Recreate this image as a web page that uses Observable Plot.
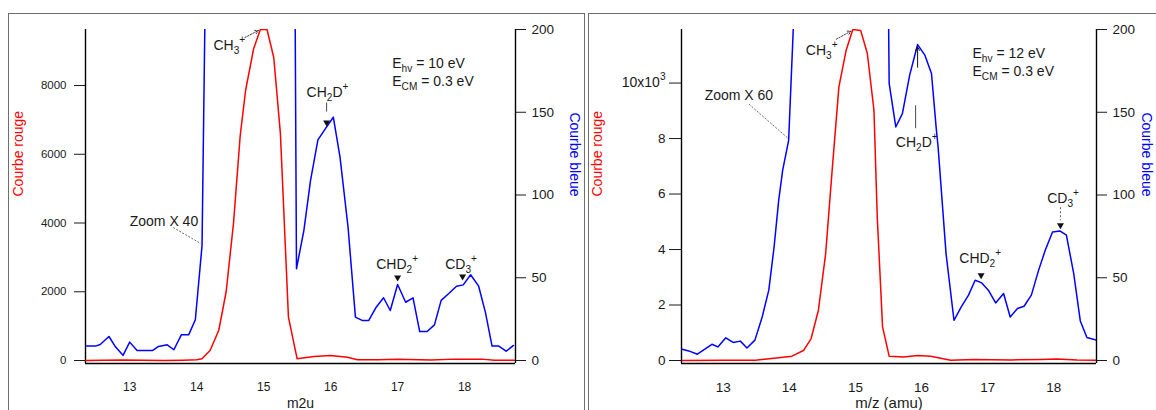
<!DOCTYPE html>
<html>
<head>
<meta charset="utf-8">
<script src="https://cdn.jsdelivr.net/npm/d3@7"></script>
<script src="https://cdn.jsdelivr.net/npm/@observablehq/plot@0.6"></script>
<style>
  body { margin: 0; background: #fff; }
  #wrap { position: relative; width: 1156px; height: 410px; overflow: hidden; background: #fff;
          font-family: "Liberation Sans", Arial, sans-serif; }
  .box { position: absolute; top: 13px; height: 420px; border: 1.6px solid #6e6e6e; box-sizing: border-box; }
  .panel { position: absolute; top: 0; }
</style>
</head>
<body>
<div id="wrap">
  <div class="box" style="left:8px;width:577px;"></div>
  <div class="box" style="left:588px;width:580px;"></div>
  <div class="panel" id="p1" style="left:0px;"></div>
  <div class="panel" id="p2" style="left:584px;"></div>
</div>
<script>
// ---------- shared tick values ----------
const xTicks = [13, 14, 15, 16, 17, 18];
const blueTicks = [0, 50, 100, 150, 200];

// ---------- left panel (Ehv = 10 eV, zoom x40) ----------
const xDomainA = [12.34, 18.76];
const redMaxA = 9630;
const blueMaxA = 200;
const redTicksA = [0, 2000, 4000, 6000, 8000];
const redMassA = [12.34, 12.6, 12.9, 13.2, 13.5, 13.8, 14.0, 14.08, 14.2, 14.33, 14.44, 14.55, 14.65, 14.73, 14.85, 14.95, 15.05, 15.15, 15.19, 15.25, 15.37, 15.5, 15.75, 16.0, 16.25, 16.4, 16.7, 17.0, 17.5, 17.85, 18.25, 18.45, 18.76];
const redA = [0, 10, 15, 5, 0, 10, 20, 50, 290, 880, 2000, 4000, 6545, 7855, 9068, 9630, 9630, 8823, 7950, 6600, 1260, 50, 116, 145, 96, 20, 25, 35, 15, 40, 40, 10, 5];
const blueMassA = [12.355, 12.49, 12.56, 12.69, 12.79, 12.90, 13.00, 13.11, 13.34, 13.43, 13.56, 13.66, 13.77, 13.88, 13.98, 14.08, 14.14, 14.16, 15.45, 15.47, 15.49, 15.60, 15.70, 15.81, 15.92, 16.04, 16.14, 16.26, 16.37, 16.47, 16.57, 16.68, 16.79, 16.89, 17.00, 17.12, 17.23, 17.33, 17.44, 17.55, 17.65, 17.76, 17.88, 17.98, 18.09, 18.21, 18.31, 18.41, 18.51, 18.62, 18.73];
const blueA = [8.7, 8.7, 9.7, 14.5, 8.1, 3.1, 11.1, 6.0, 6.0, 8.5, 9.5, 6.5, 15.5, 15.5, 24.6, 69.5, 260, 2500, 2500, 210, 55.4, 78.5, 108.8, 133.3, 140, 147, 122.9, 80.5, 26.2, 24.2, 24.2, 32.2, 37.9, 30.2, 45.9, 35.2, 37.9, 17.5, 17.5, 21.5, 36.3, 40.3, 44.9, 45.7, 51.8, 44.9, 29.2, 8.7, 8.7, 5.6, 9.1];

// annotation labels (x in amu, y in red-axis units)
const labelsA = ["CH_{3}^{+}", "Zoom X 40", "CH_{2}D^{+}", "E_{hv} = 10 eV", "E_{CM} = 0.3 eV", "CHD_{2}^{+}", "CD_{3}^{+}"];
const labelXA = [14.25, 13.0, 15.64, 16.92, 16.92, 16.68, 17.71];
const labelYA = [9164, 4044, 7796, 8640, 8116, 2793, 2793];
const arrowA = { x1: 14.72, y1: 9396, x2: 14.92, y2: 9600 };
const leaderA = { x1: 13.65, y1: 3869, x2: 14.06, y2: 3404 };
const tickLineA = { x1: 15.94, y1: 7505, x2: 15.94, y2: 7243 };
const markerXA = [15.94, 17.0, 17.97];
const markerYA = [6923, 2414, 2443];

// ---------- right panel (Ehv = 12 eV, zoom x60) ----------
const xDomainB = [12.37, 18.645];
const redMaxB = 11930;
const blueMaxB = 200;
const redTicksB = [0, 2000, 4000, 6000, 8000, 10000];
const redLabelsB = ["0", "2", "4", "6", "8", "10x10^{3}"];
const redMassB = [12.38, 13.0, 13.49, 13.84, 14.04, 14.22, 14.33, 14.44, 14.55, 14.64, 14.75, 14.86, 14.96, 15.08, 15.18, 15.28, 15.33, 15.41, 15.51, 15.73, 15.94, 16.14, 16.44, 16.79, 17.35, 17.8, 18.05, 18.35, 18.645];
const redB = [0, 5, 10, 100, 155, 371, 792, 1813, 3856, 6617, 9860, 11183, 11930, 11890, 11064, 9020, 5175, 1211, 155, 130, 180, 155, 10, 40, 20, 40, 55, 20, 10];
const blueMassB = [12.38, 12.48, 12.61, 12.83, 12.92, 13.04, 13.15, 13.26, 13.36, 13.48, 13.59, 13.69, 13.77, 13.84, 13.90, 13.99, 14.07, 14.09, 15.49, 15.50, 15.51, 15.61, 15.71, 15.82, 15.94, 16.05, 16.15, 16.22, 16.25, 16.37, 16.49, 16.60, 16.71, 16.81, 16.91, 17.01, 17.12, 17.24, 17.34, 17.45, 17.55, 17.66, 17.77, 17.87, 17.98, 18.09, 18.19, 18.30, 18.40, 18.50, 18.645];
const blueB = [6.8, 5.8, 3.8, 9.8, 8.2, 13.7, 10.9, 11.7, 7.6, 12.3, 26.3, 42.5, 68.6, 96.9, 115, 133, 210, 2500, 2500, 210, 167.4, 141.1, 149.2, 172.4, 190.9, 184.5, 173.4, 141, 129, 64.6, 24.3, 32.4, 39.5, 48.5, 46.9, 42.5, 34.8, 40.5, 26.3, 31.4, 32.8, 39.5, 54.6, 66.6, 77.7, 78.3, 75.7, 52.6, 23.9, 13.9, 12.3];

const labelsB = ["CH_{3}^{+}", "Zoom X 60", "E_{hv} = 12 eV", "E_{CM} = 0.3 eV", "CH_{2}D^{+}", "CHD_{2}^{+}", "CD_{3}^{+}"];
const labelXB = [14.25, 12.72, 16.77, 16.77, 15.61, 16.57, 17.90];
const labelYB = [11183, 9562, 11075, 10427, 7868, 3687, 5849];
const arrowB = { x1: 14.71, y1: 11580, x2: 14.93, y2: 11868 };
const leaderB = { x1: 13.39, y1: 9240, x2: 13.98, y2: 8012 };
const tickLineB = { x1: 15.91, y1: 9201, x2: 15.91, y2: 8372 };
const upArrowB = { x1: 15.94, y1: 10571, x2: 15.94, y2: 11300 };
const dashLineB = { x1: 18.10, y1: 5525, x2: 18.10, y2: 5056 };
const markerXB = [16.90, 18.10];
const markerYB = [3074, 4876];

const FONT = "Liberation Sans, Arial, Helvetica, sans-serif";

function zip(xs, ys) { return xs.map((x, i) => ({x, y: ys[i]})); }

function richify(svg) {
  d3.select(svg).selectAll("text").each(function () {
    const t = this.textContent;
    if (!/[_^]\{/.test(t)) return;
    const fs = parseFloat(getComputedStyle(this).fontSize) || 14;
    const s = fs / 14;
    this.textContent = "";
    const re = /([_^])\{([^}]*)\}|([^_^]+)/g;
    let m, cur = 0;
    while ((m = re.exec(t))) {
      const ts = document.createElementNS("http://www.w3.org/2000/svg", "tspan");
      let target, size;
      if (m[3] !== undefined) { target = 0; size = fs; ts.textContent = m[3]; }
      else if (m[1] === "_") { target = 4 * s; size = fs * 0.72; ts.textContent = m[2]; }
      else { target = -7 * s; size = fs * 0.72; ts.textContent = m[2]; }
      ts.setAttribute("dy", (target - cur).toFixed(2));
      ts.setAttribute("font-size", size.toFixed(1));
      cur = target;
      this.appendChild(ts);
    }
  });
}

function panel(o) {
  const k = o.redMax / o.blueMax;
  const red = zip(o.redMass, o.red);
  const blue = zip(o.blueMass, o.blue).map(d => ({x: d.x, y: d.y * k}));
  const labels = o.labels.map((t, i) => ({t, x: o.labelX[i], y: o.labelY[i]}));
  const markers = zip(o.markerX, o.markerY);
  const marks = [
    Plot.axisY({anchor: "left", ticks: o.redTicks, tickFormat: o.redFormat, tickSize: o.lTickSize, tickPadding: o.lTickPad, label: null}),
    Plot.axisY({anchor: "right", ticks: blueTicks.map(v => v * k), tickFormat: d => String(Math.round(d / k)), tickSize: 10, tickPadding: 6, label: null}),
    Plot.axisX({ticks: xTicks, tickFormat: d => String(d), tickSize: 0, tickPadding: 19, label: null}),
    Plot.ruleX(o.xDomain, {stroke: "black", strokeWidth: 1.4}),
    Plot.ruleY([0], {dy: 3, stroke: "black", strokeWidth: 1.4}),
    Plot.line(red, {x: "x", y: "y", stroke: "#ff0000", strokeWidth: 1.5, clip: true}),
    Plot.line(blue, {x: "x", y: "y", stroke: "#0000ff", strokeWidth: 1.5, clip: true}),
    Plot.text(labels, {x: "x", y: "y", text: "t", textAnchor: "start", fontSize: 14, fill: "#1a1a1a"}),
    Plot.arrow([o.arrow], {x1: "x1", y1: "y1", x2: "x2", y2: "y2", stroke: "#222", strokeWidth: 0.9, strokeDasharray: "1.5,1.5", headLength: 6}),
    Plot.link([o.leader], {x1: "x1", y1: "y1", x2: "x2", y2: "y2", stroke: "#444", strokeWidth: 0.8, strokeDasharray: "2,1.5"}),
    Plot.link([o.tickLine], {x1: "x1", y1: "y1", x2: "x2", y2: "y2", stroke: "#333", strokeWidth: 0.9}),
    Plot.dot(markers, {x: "x", y: "y", symbol: "triangle", rotate: 180, r: 2.6, fill: "#111", stroke: null}),
    Plot.text(["Courbe rouge"], {frameAnchor: "left", dx: o.redLabelDx, rotate: -90, fill: "#ff0000", fontSize: 14}),
    Plot.text(["Courbe bleue"], {frameAnchor: "right", dx: o.blueLabelDx, rotate: 90, fill: "#0000ff", fontSize: 14}),
    Plot.text([o.xLabel], {frameAnchor: "bottom", dy: 44, fill: "#1a1a1a", fontSize: o.xLabelFont})
  ];
  if (o.upArrow) marks.push(Plot.arrow([o.upArrow], {x1: "x1", y1: "y1", x2: "x2", y2: "y2", stroke: "#111", strokeWidth: 1, headLength: 6}));
  if (o.dashLine) marks.push(Plot.link([o.dashLine], {x1: "x1", y1: "y1", x2: "x2", y2: "y2", stroke: "#444", strokeWidth: 0.9, strokeDasharray: "2,2"}));
  const svg = Plot.plot({
    width: o.width, height: 410,
    marginTop: 29, marginBottom: 47, marginLeft: o.marginLeft, marginRight: o.marginRight,
    style: {fontFamily: FONT, background: "transparent", color: "#1a1a1a"},
    x: {domain: o.xDomain},
    y: {domain: [0, o.redMax], insetBottom: 3},
    marks
  });
  // tick label sizes
  const yLab = svg.querySelectorAll('g[aria-label="y-axis tick label"]');
  if (yLab[0]) yLab[0].setAttribute("font-size", o.lFont);
  if (yLab[1]) yLab[1].setAttribute("font-size", o.rFont);
  svg.querySelectorAll('g[aria-label="x-axis tick label"]').forEach(g => g.setAttribute("font-size", o.xFont));
  richify(svg);
  return svg;
}

const svgA = panel({
  width: 584, marginLeft: 85, marginRight: 69,
  xDomain: xDomainA, redMax: redMaxA, blueMax: blueMaxA,
  redTicks: redTicksA, redFormat: d => String(d),
  lTickSize: 11, lTickPad: 8, lFont: 11.5, rFont: 13.5, xFont: 12,
  redMass: redMassA, red: redA, blueMass: blueMassA, blue: blueA,
  labels: labelsA, labelX: labelXA, labelY: labelYA,
  arrow: arrowA, leader: leaderA, tickLine: tickLineA,
  markerX: markerXA, markerY: markerYA,
  redLabelDx: -67, blueLabelDx: 59, xLabel: "m2u", xLabelFont: 14
});
document.getElementById("p1").appendChild(svgA);

const svgB = panel({
  width: 572, marginLeft: 97, marginRight: 60,
  xDomain: xDomainB, redMax: redMaxB, blueMax: blueMaxB,
  redTicks: redTicksB, redFormat: d => redLabelsB[redTicksB.indexOf(d)],
  lTickSize: 12, lTickPad: 4, lFont: 13.5, rFont: 13.5, xFont: 13.5,
  redMass: redMassB, red: redB, blueMass: blueMassB, blue: blueB,
  labels: labelsB, labelX: labelXB, labelY: labelYB,
  arrow: arrowB, leader: leaderB, tickLine: tickLineB,
  upArrow: upArrowB, dashLine: dashLineB,
  markerX: markerXB, markerY: markerYB,
  redLabelDx: -84, blueLabelDx: 50, xLabel: "m/z (amu)", xLabelFont: 15
});
document.getElementById("p2").appendChild(svgB);
</script>
</body>
</html>
